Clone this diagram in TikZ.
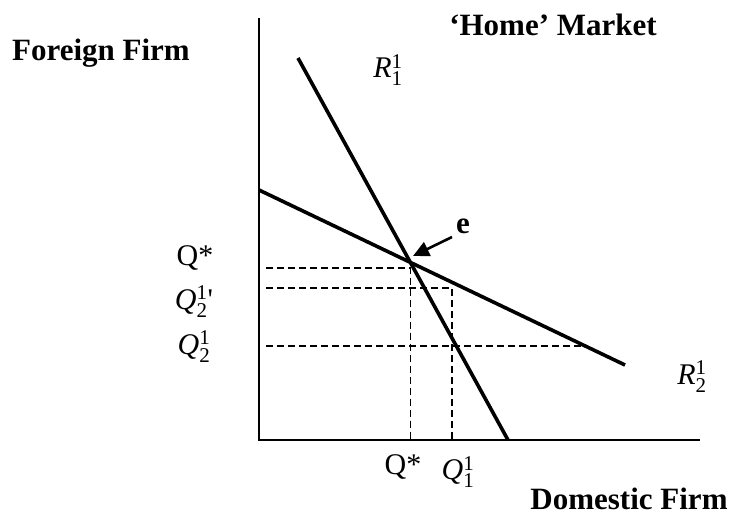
\documentclass[tikz,border=0pt]{standalone}
\usepackage{amsmath}
\usepackage{fontspec}
\setmainfont{Liberation Serif}
\usetikzlibrary{arrows.meta,intersections}
\newcommand{\qlab}[3]{\textit{#1}$^{\textrm{#3}}_{\textrm{#2}}$}

\begin{document}
\begin{tikzpicture}[x={(1pt,0pt)},y={(0pt,-1pt)},
    axis/.style={line width=2.6pt},
    resp/.style={line width=3.6pt},
    guide/.style={line width=1.4pt,dash pattern=on 7pt off 4pt},
    lbl/.style={font=\fontsize{30}{36}\selectfont,inner sep=0pt},
    blbl/.style={font=\fontsize{31}{37}\selectfont\bfseries,inner sep=0pt}]
  \useasboundingbox (0,0) rectangle (733,515);
  % axes
  \coordinate (ytop) at (259,18);
  \coordinate (origin) at (259,440);
  \coordinate (xend) at (700,440);
  \draw[axis] (ytop) -- (origin) -- (xend);
  % reaction functions
  \coordinate (r1a) at (298,58);
  \coordinate (r1b) at (508,440);
  \coordinate (r2a) at (259,190);
  \coordinate (r2b) at (625,365);
  \draw[resp,name path=r1] (r1a) -- (r1b);
  \draw[resp,name path=r2] (r2a) -- (r2b);
  \path[name intersections={of=r1 and r2,by=eq}];
  % dashed guides
  \coordinate (qs) at (266,268);
  \coordinate (q2p) at (266,288);
  \coordinate (q2) at (266,346);
  \coordinate (q1) at (452,288);
  \coordinate (q2end) at (582,346);
  \draw[guide] (qs) -- (qs -| eq) -- (eq |- origin);
  \draw[guide] (q2p) -- (q1) -- (q1 |- origin);
  \draw[guide] (q2) -- (q2end);
  % labels
  \node[blbl] (foreign) at (101,53) {Foreign Firm};
  \node[blbl] (home) at (553,25) {`Home' Market};
  \node[blbl] (domestic) at (629,499) {Domestic Firm};
  \node[lbl] (r1lab) at (388,70) {\qlab{R}{1}{1}};
  \node[lbl] (r2lab) at (692,377) {\qlab{R}{2}{1}};
  \node[lbl] (qsy) at (195,258) {Q*};
  \node[lbl] (q2py) at (194,302) {\qlab{Q}{2}{1}\textquotesingle};
  \node[lbl] (q2y) at (194,347) {\qlab{Q}{2}{1}};
  \node[lbl] (qsx) at (403,467) {Q*};
  \node[lbl] (q1x) at (458,472) {\qlab{Q}{1}{1}};
  \node[blbl] (elab) at (463,226) {e};
  \coordinate (etail) at (452,237);
  \coordinate (etip) at (413,256);
  \draw[line width=2.6pt,-{Triangle[length=16pt,width=15pt]}] (etail) -- (etip);
\end{tikzpicture}
\end{document}
